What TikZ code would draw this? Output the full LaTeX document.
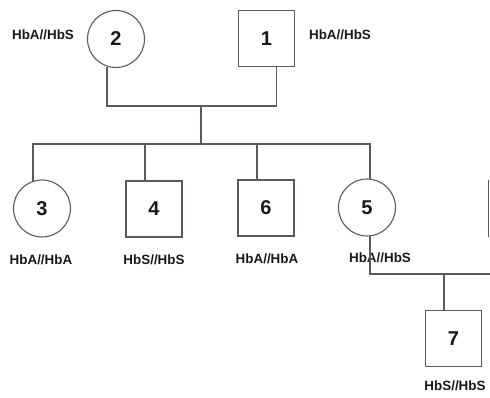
\documentclass[tikz,border=0pt]{standalone}
\usepackage{fontspec}
\setmainfont{Liberation Sans}
\definecolor{edge}{RGB}{90,90,100}
\definecolor{txt}{RGB}{25,25,25}
\begin{document}
\begin{tikzpicture}[x=1pt,y=-1pt,
  ln/.style={draw=edge,line width=1.1pt},
  female/.style={circle,ln,minimum size=57pt,inner sep=0pt,font=\fontsize{20}{22}\selectfont\bfseries,text=txt},
  male/.style={rectangle,ln,minimum size=56pt,inner sep=0pt,font=\fontsize{20}{22}\selectfont\bfseries,text=txt},
  geno/.style={font=\fontsize{13.4}{15}\selectfont\bfseries,text=txt,inner sep=0pt}]
\useasboundingbox (0,0) rectangle (490,398);
\node[female] (n2) at (116,39) {2};
\node[male] (n1) at (266.5,38.5) {1};
\node[female] (n3) at (42,208.5) {3};
\node[male] (n4) at (154,209) {4};
\node[male] (n6) at (266,208) {6};
\node[female] (n5) at (367,207.5) {5};
\node[male] (n7) at (453.5,338.5) {7};
\node[geno] (l2) at (43,35) {HbA//HbS};
\node[geno] (l1) at (340,35) {HbA//HbS};
\node[geno] (l3) at (41,260) {HbA//HbA};
\node[geno] (l4) at (154,260) {HbS//HbS};
\node[geno] (l6) at (267,259) {HbA//HbA};
\node[geno] (l5) at (380,258) {HbA//HbS};
\node[geno] (l7) at (455,386) {HbS//HbS};
\coordinate (m1) at (201,106);
\coordinate (s1) at (201,144);
\coordinate (m2) at (490,274);
\coordinate (c7) at (444,274);
\coordinate (p1) at (488.5,180);
\coordinate (p2) at (488.5,237);
\draw[ln] (n2.-108) |- (m1) -| ([xshift=10pt]n1.south);
\draw[ln] (m1) -- (s1);
\draw[ln] (s1) -| (n3.108);
\draw[ln] (s1) -| ([xshift=-9pt]n4.north);
\draw[ln] (s1) -| ([xshift=-9pt]n6.north);
\draw[ln] (s1) -| (n5.84);
\draw[ln] (n5.-84) |- (m2);
\draw[ln] (c7) -- ([xshift=-9.5pt]n7.north);
\draw[ln] (p1) -- (p2);
\end{tikzpicture}
\end{document}
